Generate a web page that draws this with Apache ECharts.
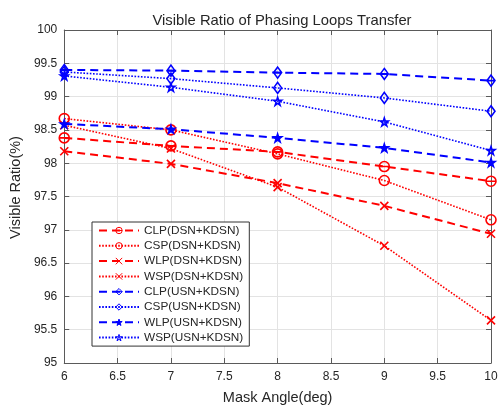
<!DOCTYPE html>
<html><head><meta charset="utf-8">
<script src="https://cdn.jsdelivr.net/npm/echarts@6/dist/echarts.min.js"></script>
<style>html,body{margin:0;padding:0;background:#fff}#c{width:501px;height:410px}</style>
</head><body><div id="c"></div>
<script>
const angles = [6, 7, 8, 9, 10];
const clpDSN = [98.38, 98.26, 98.17, 97.95, 97.73];
const cspDSN = [98.67, 98.50, 98.14, 97.74, 97.15];
const wlpDSN = [98.18, 97.99, 97.70, 97.36, 96.94];
const wspDSN = [98.57, 98.22, 97.64, 96.76, 95.64];
const clpUSN = [99.40, 99.39, 99.36, 99.34, 99.24];
const cspUSN = [99.37, 99.27, 99.13, 98.98, 98.78];
const wlpUSN = [98.59, 98.51, 98.38, 98.23, 98.01];
const wspUSN = [99.31, 99.14, 98.93, 98.62, 98.19];
const names = ['CLP(DSN+KDSN)','CSP(DSN+KDSN)','WLP(DSN+KDSN)','WSP(DSN+KDSN)',
               'CLP(USN+KDSN)','CSP(USN+KDSN)','WLP(USN+KDSN)','WSP(USN+KDSN)'];

const circleBar = 'path://M0,5A5,5,0,1,1,10,5A5,5,0,1,1,0,5ZM0,5L10,5';
const circle = 'path://M0,5A5,5,0,1,1,10,5A5,5,0,1,1,0,5Z';
const xmark = 'path://M0,0L10,10M10,0L0,10';
const diamondBar = 'path://M5,0L10,6L5,12L0,6ZM0,6L10,6';
const diamond = 'path://M5,0L10,6L5,12L0,6Z';
const star = 'path://M5,0L6.2,3.6L10,3.6L6.9,5.9L8.1,9.5L5,7.3L1.9,9.5L3.1,5.9L0,3.6L3.8,3.6Z';

const RED = '#ff0000', BLUE = '#0000ff';
const dash = [8, 5], dot = [1.6, 1.6];

function mk(name, data, color, lt, sym, fill, size) {
  return {
    name, type: 'line', data: angles.map((a, i) => [a, data[i]]),
    symbol: sym, symbolSize: size, showAllSymbol: true,
    lineStyle: { color, width: lt === dash ? 2 : 1.6, type: lt },
    itemStyle: { color: fill ? color : 'rgba(255,255,255,0)', borderColor: color, borderWidth: 1.6 },
    emphasis: { disabled: true }, animation: false, z: 3
  };
}

const series = [
  mk(names[0], clpDSN, RED, dash, circleBar, false, 10),
  mk(names[1], cspDSN, RED, dot, circle, false, 10),
  mk(names[2], wlpDSN, RED, dash, xmark, false, 8),
  mk(names[3], wspDSN, RED, dot, xmark, false, 8),
  mk(names[4], clpUSN, BLUE, dash, diamondBar, false, [8, 11]),
  mk(names[5], cspUSN, BLUE, dot, diamond, false, [8, 11]),
  mk(names[6], wlpUSN, BLUE, dash, star, true, 8),
  mk(names[7], wspUSN, BLUE, dot, star, false, 8)
];

const axisCol = '#5a5a5a', txt = '#262626', font = 'Liberation Sans, Arial, sans-serif';
const chart = echarts.init(document.getElementById('c'));
chart.setOption({
  animation: false,
  textStyle: { fontFamily: font },
  title: { text: 'Visible Ratio of Phasing Loops Transfer', left: 277, top: 8, textAlign: 'center',
    textStyle: { fontSize: 14.8, fontWeight: 'normal', color: txt, fontFamily: font } },
  grid: { left: 64, right: 10, top: 30, bottom: 42 },
  legend: {
    data: names, orient: 'vertical', left: 92, top: 222,
    backgroundColor: '#fff', borderColor: '#333', borderWidth: 1,
    padding: [1, 6, 1, 6], itemGap: 0.3, itemWidth: 40, itemHeight: 8,
    itemStyle: { borderWidth: 1 },
    textStyle: { fontSize: 11.8, lineHeight: 15, color: txt, fontFamily: font }
  },
  xAxis: [
    { type: 'value', min: 6, max: 10, interval: 0.5, position: 'bottom',
      name: 'Mask Angle(deg)', nameLocation: 'middle', nameGap: 27,
      nameTextStyle: { fontSize: 14.5, color: txt },
      axisLine: { lineStyle: { color: axisCol, width: 1 } },
      axisTick: { inside: true, length: 5, lineStyle: { color: axisCol } },
      axisLabel: { fontSize: 12, color: txt, margin: 8 },
      splitLine: { show: true, lineStyle: { color: '#e3e3e3', width: 1 } } },
    { type: 'value', min: 6, max: 10, interval: 0.5, position: 'top',
      axisLine: { show: true, lineStyle: { color: axisCol, width: 1 } },
      axisTick: { inside: true, length: 5, lineStyle: { color: axisCol } },
      axisLabel: { show: false }, splitLine: { show: false } }
  ],
  yAxis: [
    { type: 'value', min: 95, max: 100, interval: 0.5, position: 'left',
      name: 'Visible Ratio(%)', nameLocation: 'middle', nameGap: 38,
      nameTextStyle: { fontSize: 14.5, color: txt, padding: [0, 0, 0, 18] },
      axisLine: { show: true, lineStyle: { color: axisCol, width: 1 } },
      axisTick: { show: true, inside: true, length: 5, lineStyle: { color: axisCol } },
      axisLabel: { fontSize: 12, color: txt, margin: 7 },
      splitLine: { show: true, lineStyle: { color: '#e3e3e3', width: 1 } } },
    { type: 'value', min: 95, max: 100, interval: 0.5, position: 'right',
      axisLine: { show: true, lineStyle: { color: axisCol, width: 1 } },
      axisTick: { show: true, inside: true, length: 5, lineStyle: { color: axisCol } },
      axisLabel: { show: false }, splitLine: { show: false } }
  ],
  series
});
</script></body></html>
